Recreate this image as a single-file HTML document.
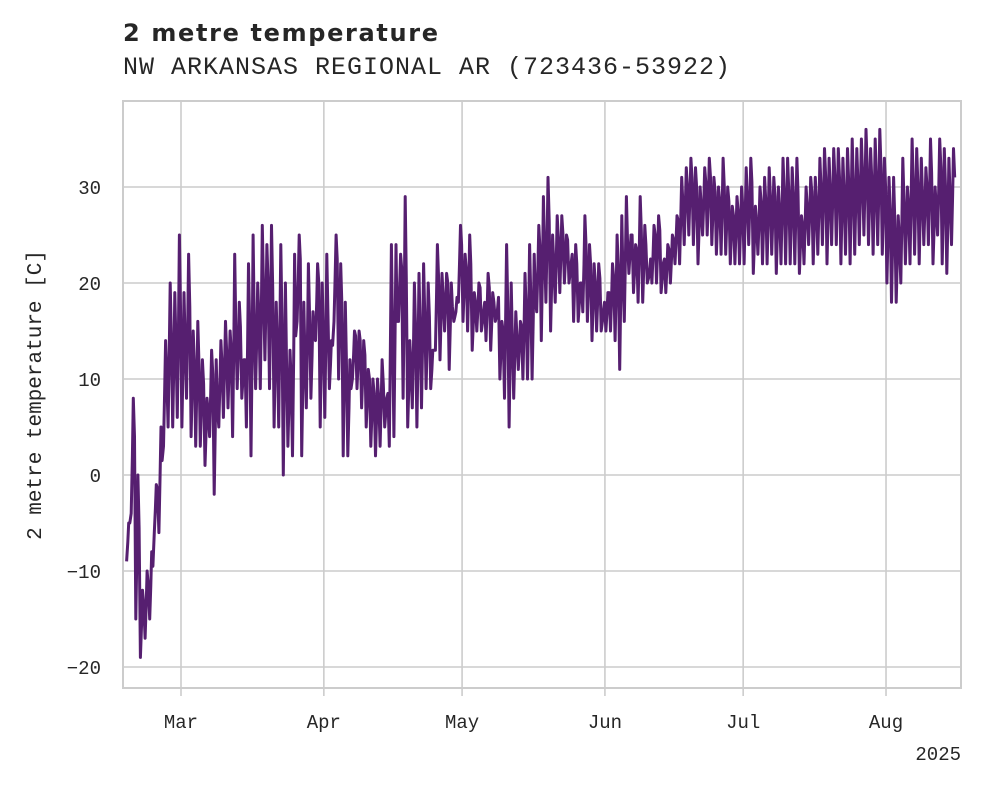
<!DOCTYPE html>
<html><head><meta charset="utf-8"><style>
html,body{margin:0;padding:0;background:#fff;}
svg{display:block;}
text{font-family:"Liberation Mono",monospace;fill:#262626;}
</style></head><body>
<svg width="981" height="785" viewBox="0 0 981 785">
<text x="123" y="41" style="font-family:'DejaVu Sans',sans-serif;font-weight:bold;font-size:24px" textLength="315">2 metre temperature</text>
<text x="123" y="74" font-size="25" textLength="607">NW ARKANSAS REGIONAL AR (723436-53922)</text>
<g id="grid"></g>
<g id="series"></g>
<rect x="123" y="101" width="838" height="587" fill="none" stroke="#cccccc" stroke-width="2"/>
<g id="axes"></g>
<text transform="translate(41,395) rotate(-90)" text-anchor="middle" font-size="21">2 metre temperature [C]</text>
<text x="961" y="760" text-anchor="end" font-size="19">2025</text>
</svg>
<script>
const yTicks=[-20,-10,0,10,20,30];
const monthLabels=["Mar","Apr","May","Jun","Jul","Aug"];
const monthDays=[12,43,73,104,134,165]; // days since Feb 17
const dailyMax=[-5,8,0,-12,-10,-8,-1,5,14,20,19,25,
19,23,15,16,12,8,13,12,14,16,15,23,18,12,22,25,20,26,24,26,18,24,20,13,23,25,18,22,17,22,20,
23,14,25,22,18,12,15,15,14,11,10,10,12,8,24,24,23,29,14,20,21,22,20,13,24,21,21,20,17,26,
23,25,19,20,17,21,19,17,16,24,20,17,16,21,24,23,26,29,31,25,27,27,25,22,24,20,27,24,22,22,17,
19,22,25,27,29,25,24,29,26,21,26,27,22,24,25,27,31,32,33,32,30,32,33,31,30,33,30,28,29,30,
32,33,28,30,31,32,31,30,33,33,32,33,27,30,31,31,33,34,33,34,34,33,34,35,34,35,36,34,35,36,33,
31,31,27,33,30,35,34,33,32,35,30,35,34,33,34];
const dailyMin=[-9,-4,-15,-19,-17,-15,-6,-6,3,5,5,6,
5,8,4,3,3,1,4,-2,5,6,7,4,9,8,5,2,9,9,12,9,5,5,0,3,2,16,2,7,8,14,5,
6,9,16,10,2,2,10,9,7,5,3,2,3,5,3,4,16,8,5,7,5,7,9,9,13,12,15,11,16,18,
16,15,13,15,15,14,13,16,10,8,5,8,11,10,10,10,17,14,18,15,18,19,20,20,16,16,17,16,14,15,15,
15,15,14,11,16,21,19,18,18,20,20,20,19,19,20,22,22,24,25,24,22,25,25,24,23,23,23,22,22,22,
22,24,21,23,22,22,23,21,22,22,22,22,21,22,24,22,23,24,22,24,24,22,23,22,23,24,25,24,23,24,23,
20,18,18,20,22,22,23,22,24,24,22,25,22,21,24];
const NS="http://www.w3.org/2000/svg";
const x0=125.7, pxDay=4.608;
function xs(d){return x0+d*pxDay;}
function ys(v){return 475-9.6*v;}
const grid=document.getElementById('grid'), axes=document.getElementById('axes'), series=document.getElementById('series');
function mk(tag,attrs,parent){const e=document.createElementNS(NS,tag);for(const k in attrs)e.setAttribute(k,attrs[k]);parent.appendChild(e);return e;}
yTicks.forEach(v=>{
  const l=mk('line',{x1:123,x2:961,y1:ys(v),y2:ys(v),stroke:'#cccccc','stroke-width':1.6},grid);
  
  
  const t=mk('text',{x:101,y:ys(v)+7,'text-anchor':'end','font-size':19},axes);
  t.textContent=v<0?'\u2212'+Math.abs(v):String(v);
  
  
});
monthLabels.forEach((m,i)=>{
  const x=xs(monthDays[i]);
  const l=mk('line',{x1:x,x2:x,y1:101,y2:688,stroke:'#cccccc','stroke-width':1.6},grid);
  
  
  const tk=mk('line',{x1:x,x2:x,y1:688,y2:696,stroke:'#cccccc','stroke-width':1.6},axes);
  
  
  const t=mk('text',{x:x,y:728,'text-anchor':'middle','font-size':19},axes);
  t.textContent=m;
  
  
});
let pts=[];
for(let i=0;i<dailyMax.length;i++){
  pts.push(xs(i+0.2).toFixed(1)+','+ys(dailyMin[i]).toFixed(1));
  pts.push(xs(i+0.45).toFixed(1)+','+ys((dailyMin[i]+dailyMax[i])/2).toFixed(1));
  pts.push(xs(i+0.65).toFixed(1)+','+ys(dailyMax[i]).toFixed(1));
  pts.push(xs(i+0.9).toFixed(1)+','+ys((dailyMin[i]+dailyMax[i])/2+2).toFixed(1));
}
const pl=mk('polyline',{points:pts.join(' '),fill:'none',stroke:'#561f70','stroke-width':3,'stroke-linejoin':'round'},series);


</script>
</body></html>
